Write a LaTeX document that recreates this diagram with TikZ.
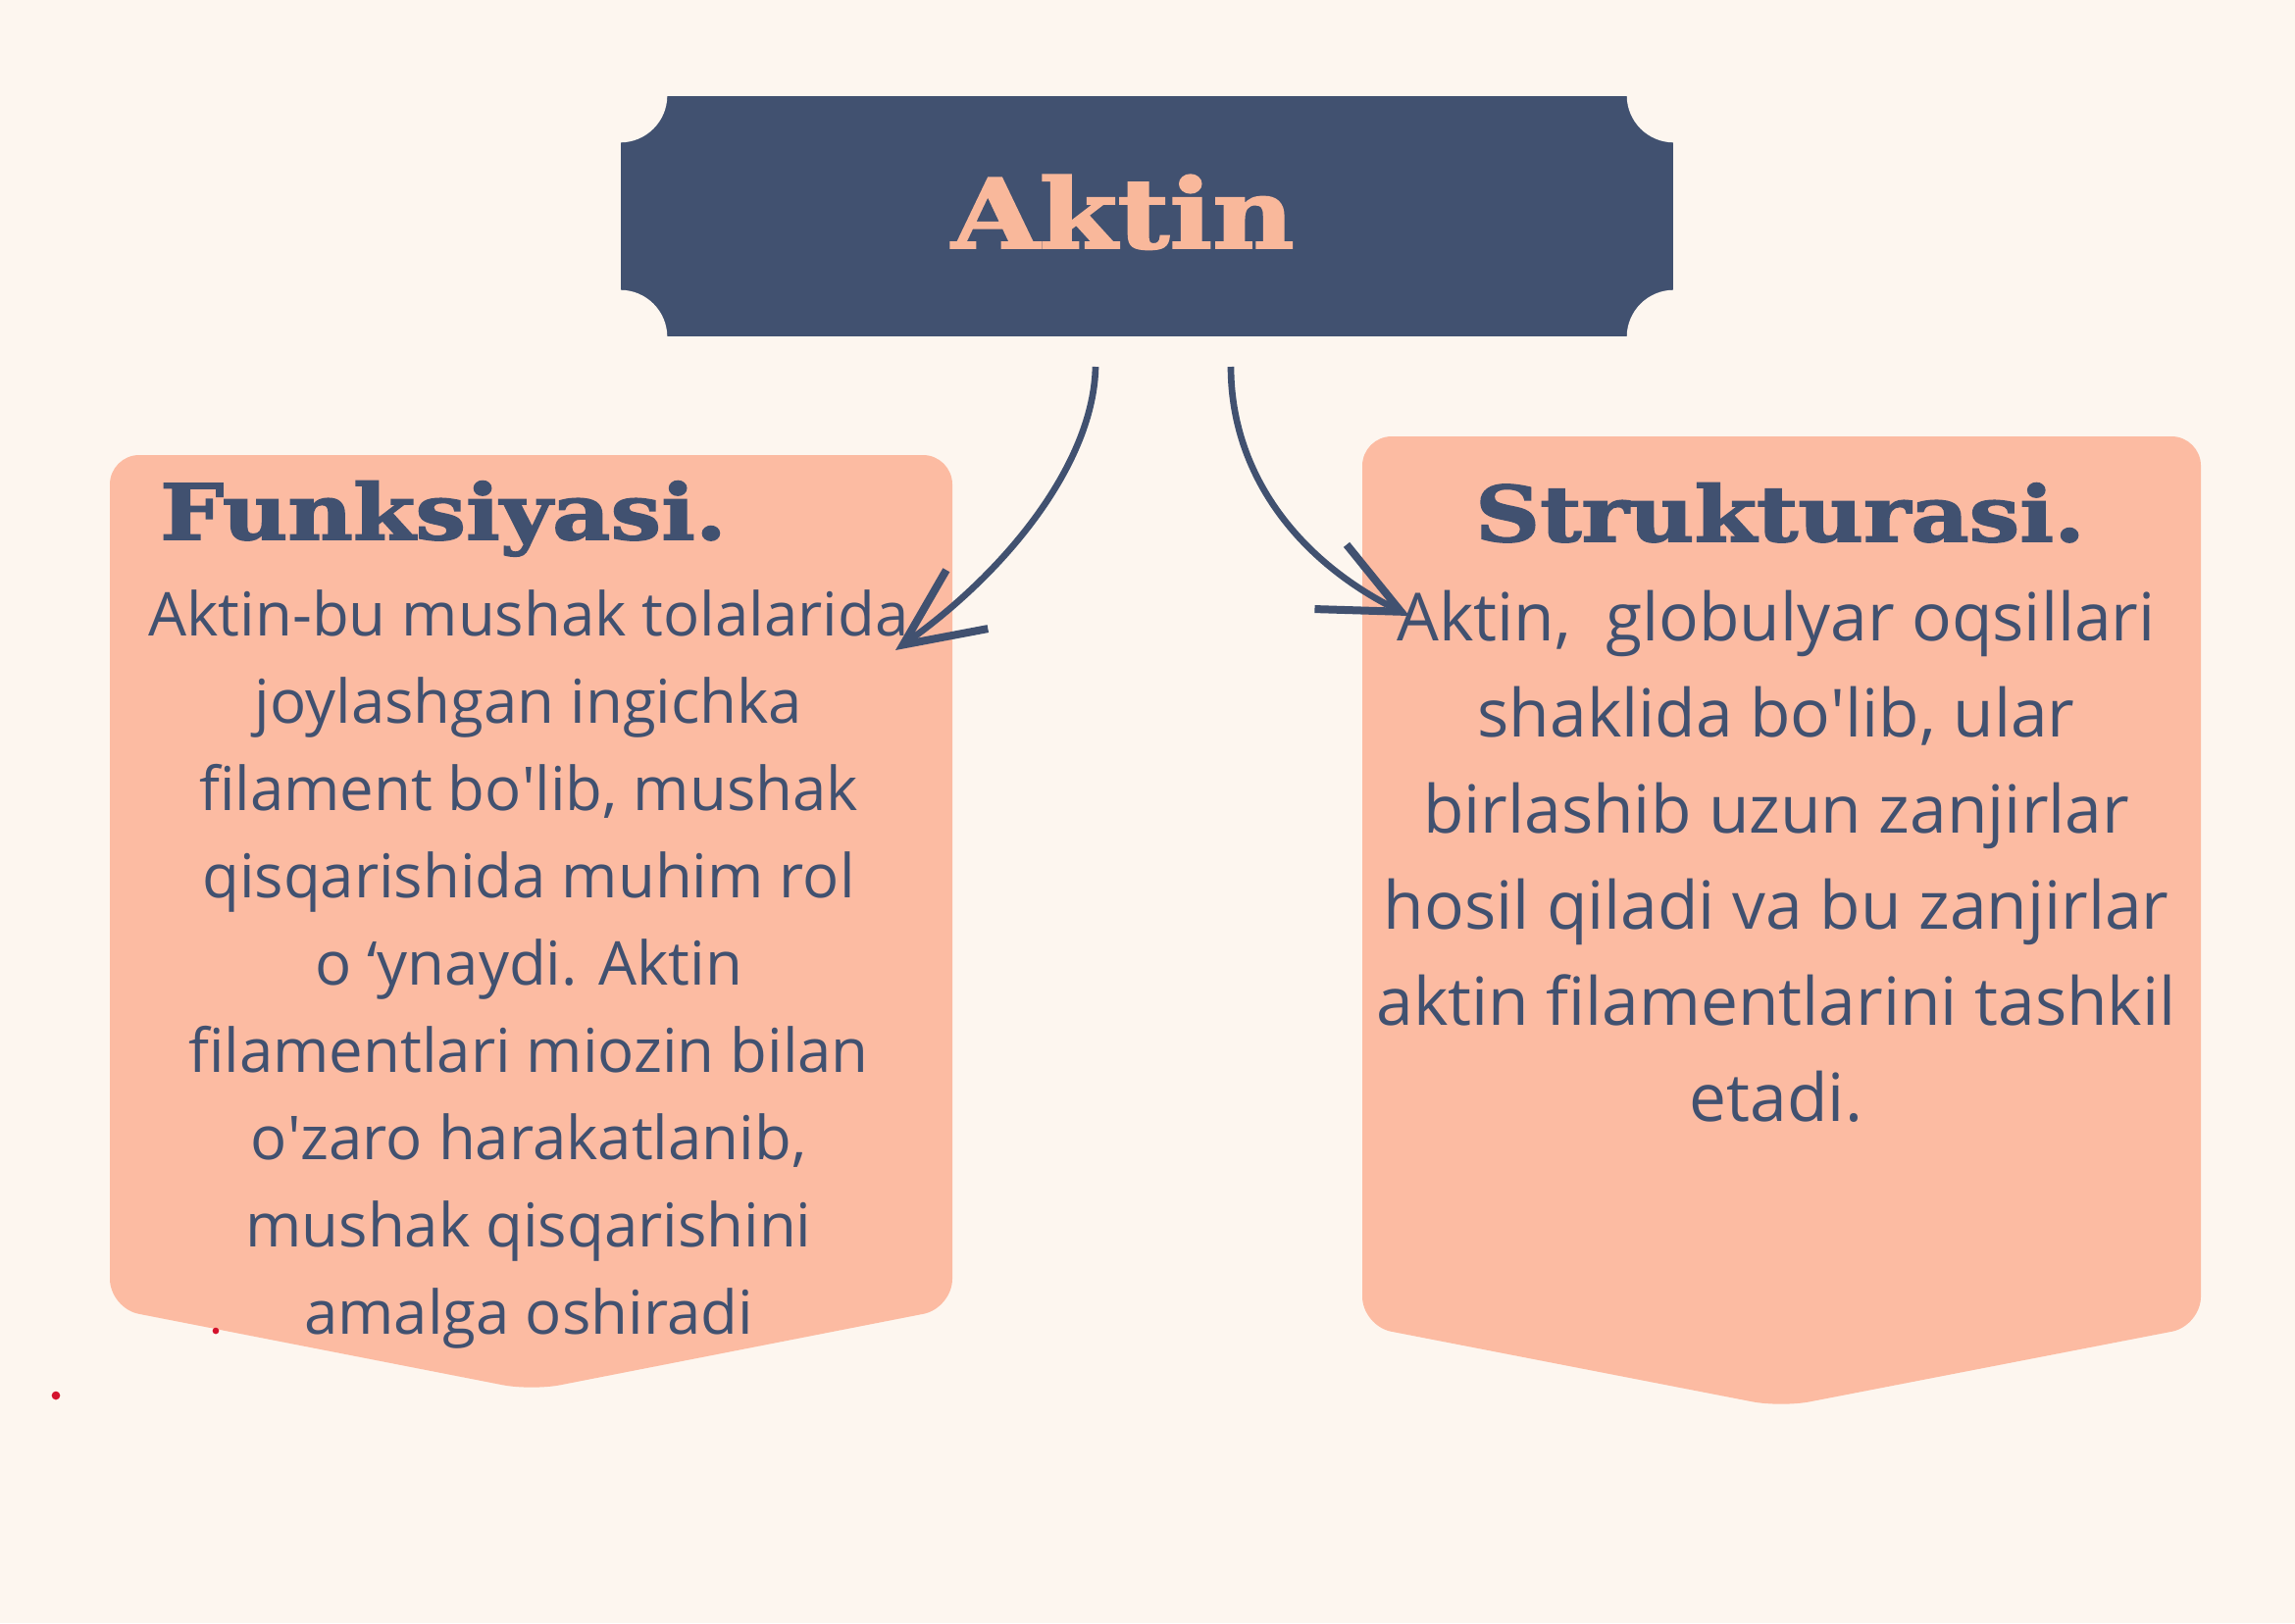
\documentclass[tikz,border=0pt]{standalone}
\usepackage{fontspec}
\usepackage{xcolor}
\usetikzlibrary{arrows.meta}
\newfontfamily\bodyfont{Open Sans}
\newfontfamily\headfont{DejaVu Serif}[BoldFeatures={FakeStretch=1.17,FakeBold=2}]
\definecolor{cream}{HTML}{FDF6EF}
\definecolor{peach}{HTML}{FCBBA2}
\definecolor{navy}{HTML}{415170}
\definecolor{titlepeach}{HTML}{F9B89B}
\definecolor{dotred}{HTML}{D4122C}
\newcommand{\ap}{\textquotesingle}

\begin{document}
\begin{tikzpicture}[x=.3pt,y=-.3pt,
	panel/.style={fill=peach, rounded corners=9pt},
	heading/.style={navy, font=\headfont\bfseries\fontsize{23.5}{28}\selectfont, anchor=base, inner sep=0},
	bodytext/.style={navy, align=center, inner sep=0},
	link/.style={navy, line width=2pt, -{Straight Barb[length=24pt,width=22pt,line width=2.4pt]}}]
\useasboundingbox (0,0) rectangle (2340,1655);
\fill[cream] (0,0) rectangle (2340,1655);
% title plate with cut corners
\node[fill=navy, minimum width=321.9pt, minimum height=73.5pt, inner sep=0] (title) at (1169.5,220.5) {};
\foreach \c in {north west,north east,south west,south east}{
	\fill[cream] (title.\c) circle (14.4pt);
	}
\node[text=titlepeach, anchor=base, inner sep=0, font=\headfont\bfseries\fontsize{29.5}{35}\selectfont] (titletext) at (1145,253) {Aktin};
% the two panels
\fill[panel] (112,464) -- (971,464) -- (971,1334) -- (542,1418) -- (112,1334) -- cycle;
\fill[panel] (1389,445) -- (2244,445) -- (2244,1352) -- (1816,1435) -- (1389,1352) -- cycle;
\node[heading] (funk) at (452,550) {Funksiyasi.};
\node[heading] (struk) at (1815,552) {Strukturasi.};
\node[bodytext, font=\bodyfont\fontsize{18.5}{26.7}\selectfont] (funktext) at (539,988) {Aktin-bu mushak tolalarida\\ joylashgan ingichka\\ filament bo\ap lib, mushak\\ qisqarishida muhim rol\\ o ‘ynaydi. Aktin\\ filamentlari miozin bilan\\ o\ap zaro harakatlanib,\\ mushak qisqarishini\\ amalga oshiradi};
\node[bodytext, font=\bodyfont\fontsize{20.3}{29.4}\selectfont] (struktext) at (1811,873) {Aktin,~ globulyar oqsillari\\ shaklida bo\ap lib, ular\\ birlashib uzun zanjirlar\\ hosil qiladi va bu zanjirlar\\ aktin filamentlarini tashkil\\ etadi.};
% arrows
\coordinate (funkfrom) at (1117,374); \coordinate (funkto) at (913,663);
\coordinate (strukfrom) at (1255,374); \coordinate (strukto) at (1437,628);
\draw[link] (funkfrom) .. controls (1115,470) and (1030,580) .. (funkto);
\draw[link] (strukfrom) .. controls (1255,480) and (1320,570) .. (strukto);
% stray marks
\fill[dotred] (57,1423) circle (1.3pt); \fill[dotred] (220,1357) circle (1pt);
\end{tikzpicture}
\end{document}
